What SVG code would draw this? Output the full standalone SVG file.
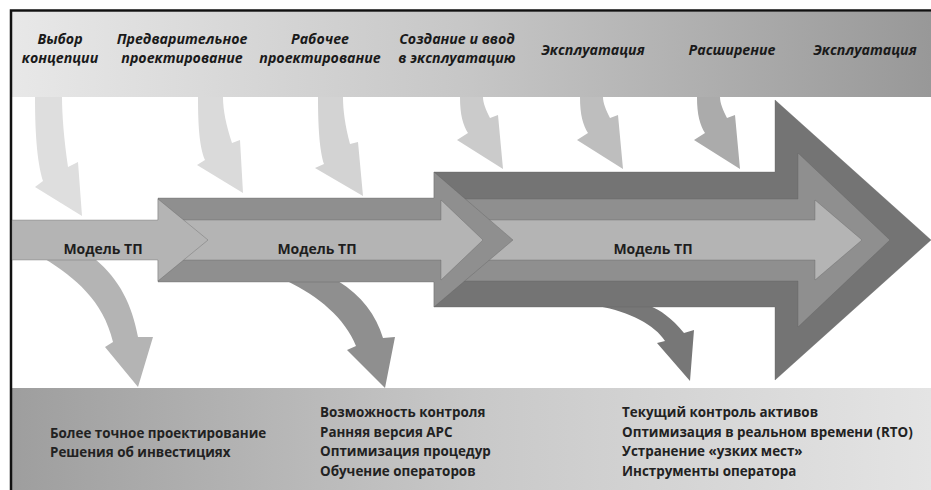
<svg xmlns="http://www.w3.org/2000/svg" width="931" height="490" viewBox="0 0 931 490">
<defs>
<linearGradient id="gTop" x1="0" y1="0" x2="1" y2="0">
<stop offset="0" stop-color="#e8e8e8"/><stop offset="0.5" stop-color="#c6c6c6"/><stop offset="1" stop-color="#989898"/>
</linearGradient>
<linearGradient id="gBot" x1="0" y1="0" x2="1" y2="0">
<stop offset="0" stop-color="#9e9e9e"/><stop offset="0.5" stop-color="#c8c8c8"/><stop offset="1" stop-color="#e4e4e4"/>
</linearGradient>
<style>
.hd{font-family:"Open Sans","Liberation Sans",sans-serif;font-weight:bold;font-style:italic;font-size:14.2px;fill:#1a1a1a;text-anchor:middle}
.md{font-family:"Open Sans","Liberation Sans",sans-serif;font-weight:bold;font-size:14px;fill:#1e1e1e;text-anchor:middle}
.bt{font-family:"Open Sans","Liberation Sans",sans-serif;font-weight:bold;font-size:13.4px;fill:#222}
.ar{stroke:#5e5e5e;stroke-opacity:0.45;stroke-width:0.8}
.lt{fill:#b4b4b4}.mdc{fill:#8f8f8f}.dk{fill:#747474}
</style>
</defs>
<rect x="12" y="12" width="919" height="85" fill="url(#gTop)"/>
<rect x="12" y="388" width="919" height="102" fill="url(#gBot)"/>
<path d="M11,490 V10.5 H931" fill="none" stroke="#111" stroke-width="2.5"/>
<g id="connectors">
<path id="in1" d="M35,97 C35,140 38,165 43,181 L35,187 L82,216 L78,162 L68,167 C64,140 62,115 62,97 Z" fill="#dedede"/>
<path id="in2" d="M198,97 C198,130 200,148 205,160 L197,165 L243,193 L240,140 L232,143 C226,125 223,110 223,97 Z" fill="#dadada"/>
<path id="in3" d="M318,97 C318,130 320,152 324,164 L315,168 L363,196 L358,142 L350,144 C345,125 343,110 343,97 Z" fill="#d3d3d3"/>
<path id="in4" d="M460,97 C460,115 463,125 468,133 L457,140 L503,169 L498,115 L490,118 C486,110 483,103 483,97 Z" fill="#cbcbcb"/>
<path id="in5" d="M580,97 C580,115 583,125 588,133 L577,140 L623,169 L618,115 L610,118 C606,110 603,103 603,97 Z" fill="#bebebe"/>
<path id="in6" d="M697,97 C697,115 700,125 705,133 L694,140 L740,169 L735,115 L727,118 C723,110 720,103 720,97 Z" fill="#ababab"/>
<path id="out1" d="M45,259 C75,278 103,300 113,342 L105,347 L138,387 L153,337 L138,337 C132,305 120,280 95,259 Z" fill="#b4b4b4"/>
<path id="out2" d="M287,281 C318,296 345,318 356,346 L347,350 L385,388 L395,337 L383,338 C376,315 362,296 338,281 Z" fill="#8f8f8f"/>
<path id="out3" d="M598,306 C630,312 655,325 665,341 L657,343 L690,381 L694,330 L684,333 C672,318 660,310 650,306 Z" fill="#777"/>
</g>
<g id="stage3">
<path class="dk ar" d="M434,172 H775 V100 L931,240 L775,380 V307 H434 Z"/>
<path class="mdc ar" d="M434,199 H798 V153 L890,240 L798,327 V281 H434 Z"/>
<path class="lt ar" d="M441,220 H815 V200 L862,240 L815,280 V260 H441 Z"/>
<text class="md" x="653" y="254">Модель ТП</text>
</g>
<g id="stage2">
<path class="mdc ar" d="M158,198 H434 V172 L513,240 L434,307 V282 H158 Z"/>
<path class="lt ar" d="M158,220 H441 V200 L483,240 L441,280 V260 H158 Z"/>
<text class="md" x="317" y="254">Модель ТП</text>
</g>
<g id="stage1">
<path class="lt ar" d="M12,220 H158 V199 L208,240 L158,281 V260 H12 Z"/>
<text class="md" x="103" y="254">Модель ТП</text>
</g>
<g id="phases">
<text class="hd" x="60" y="44">Выбор</text>
<text class="hd" x="60" y="63">концепции</text>
<text class="hd" x="182" y="44">Предварительное</text>
<text class="hd" x="182" y="63">проектирование</text>
<text class="hd" x="320" y="44">Рабочее</text>
<text class="hd" x="320" y="63">проектирование</text>
<text class="hd" x="457" y="44">Создание и ввод</text>
<text class="hd" x="457" y="63">в эксплуатацию</text>
<text class="hd" x="593" y="55">Эксплуатация</text>
<text class="hd" x="732" y="55">Расширение</text>
<text class="hd" x="865" y="55">Эксплуатация</text>
</g>
<g id="benefits1">
<text class="bt" x="50" y="438">Более точное проектирование</text>
<text class="bt" x="50" y="457">Решения об инвестициях</text>
</g>
<g id="benefits2">
<text class="bt" x="320" y="417">Возможность контроля</text>
<text class="bt" x="320" y="437">Ранняя версия APC</text>
<text class="bt" x="320" y="456">Оптимизация процедур</text>
<text class="bt" x="320" y="476">Обучение операторов</text>
</g>
<g id="benefits3">
<text class="bt" x="622" y="417">Текущий контроль активов</text>
<text class="bt" x="622" y="437">Оптимизация в реальном времени (RTO)</text>
<text class="bt" x="622" y="456">Устранение «узких мест»</text>
<text class="bt" x="622" y="476">Инструменты оператора</text>
</g>
</svg>
